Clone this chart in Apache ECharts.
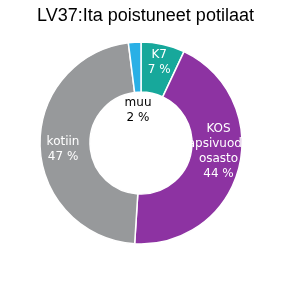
<!DOCTYPE html>
<html><head><meta charset="utf-8">
<script src="https://cdn.jsdelivr.net/npm/echarts@6/dist/echarts.min.js"></script>
<style>html,body{margin:0;padding:0;background:#fff}#c{width:291px;height:293px}</style>
</head><body><div id="c"></div>
<script>
var categories = ["K7", "KOS\napsivuode\nosasto", "kotiin", "muu"];
var values = [7, 44, 47, 2];
var colors = ["#17A89B", "#8D33A2", "#97999B", "#2AB0E6"];
var labelColors = ["#fff", "#fff", "#fff", "#000"];
var titleText = "LV37:Ita poistuneet potilaat";

var offsets = [[1, -4], [1, -11], [1, 4], [2, 46]];
var chart = echarts.init(document.getElementById('c'));
chart.setOption({
  animation: false,
  title: { text: titleText, left: 'center', top: 2,
    textStyle: { fontFamily: 'Liberation Sans', fontSize: 18, fontWeight: 'normal', color: '#000' } },
  series: [{
    type: 'pie',
    center: [141, 143],
    radius: [51, 101],
    startAngle: 90,
    clockwise: true,
    avoidLabelOverlap: false,
    itemStyle: { borderColor: '#fff', borderWidth: 1.5 },
    label: { show: true, position: 'inside', fontFamily: 'DejaVu Sans', fontSize: 12, lineHeight: 15,
      formatter: function (p) { return p.name + '\n' + p.value + ' %'; } },
    labelLayout: function (p) { var o = offsets[p.dataIndex]; return { dx: o[0], dy: o[1] }; },
    data: categories.map(function (c, i) {
      return { name: c, value: values[i], itemStyle: { color: colors[i] }, label: { color: labelColors[i] } };
    })
  }]
});
</script></body></html>
